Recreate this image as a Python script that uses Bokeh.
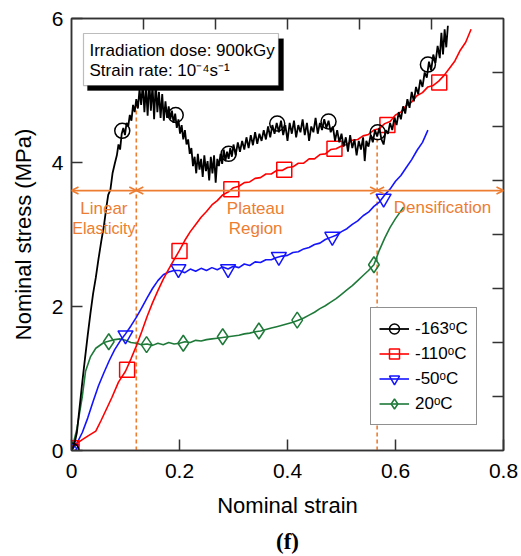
from bokeh.plotting import figure
from bokeh.models import (Range1d, LinearAxis, FixedTicker, Legend, LegendItem, Label,
                          BoxAnnotation, Arrow, OpenHead, Title)
from bokeh.embed import file_html
from bokeh.resources import INLINE

# ---------------- data ----------------
black_x = [0.000, 0.005, 0.010, 0.015, 0.020, 0.025, 0.030, 0.035, 0.040, 0.045, 0.050, 0.055,
           0.060, 0.065, 0.068, 0.072, 0.076, 0.080, 0.084, 0.087, 0.090, 0.093, 0.096, 0.099,
           0.102, 0.105, 0.108, 0.111, 0.114, 0.117, 0.120, 0.123, 0.126, 0.129, 0.132, 0.135,
           0.138, 0.141, 0.144, 0.147, 0.150, 0.153, 0.156, 0.159, 0.162, 0.165, 0.168, 0.171,
           0.174, 0.177, 0.180, 0.183, 0.186, 0.189, 0.192, 0.195, 0.198, 0.201, 0.204, 0.207,
           0.210, 0.213, 0.216, 0.219, 0.222, 0.225, 0.228, 0.231, 0.234, 0.237, 0.240, 0.243,
           0.246, 0.249, 0.252, 0.255, 0.258, 0.261, 0.264, 0.267, 0.270, 0.273, 0.276, 0.279,
           0.282, 0.285, 0.288, 0.291, 0.294, 0.297, 0.300, 0.304, 0.308, 0.312, 0.316, 0.320,
           0.324, 0.328, 0.332, 0.336, 0.340, 0.344, 0.348, 0.352, 0.356, 0.360, 0.364, 0.368,
           0.372, 0.376, 0.380, 0.384, 0.388, 0.392, 0.396, 0.400, 0.404, 0.408, 0.412, 0.416,
           0.420, 0.424, 0.428, 0.432, 0.436, 0.440, 0.444, 0.448, 0.452, 0.456, 0.460, 0.464,
           0.468, 0.472, 0.476, 0.480, 0.484, 0.488, 0.492, 0.496, 0.500, 0.504, 0.508, 0.512,
           0.516, 0.520, 0.524, 0.528, 0.532, 0.536, 0.540, 0.543, 0.546, 0.550, 0.554, 0.558,
           0.562, 0.566, 0.570, 0.574, 0.578, 0.582, 0.586, 0.590, 0.594, 0.598, 0.602, 0.606,
           0.610, 0.614, 0.618, 0.622, 0.626, 0.630, 0.634, 0.638, 0.642, 0.646, 0.650, 0.654,
           0.658, 0.662, 0.666, 0.670, 0.674, 0.678, 0.682, 0.685, 0.688, 0.691, 0.694, 0.697]
black_y = [0.00, 0.08, 0.25, 0.60, 0.95, 1.28, 1.60, 1.90, 2.18, 2.40, 2.66, 2.90,
           3.12, 3.40, 3.55, 3.62, 3.85, 3.98, 4.10, 4.25, 4.18, 4.40, 4.48, 4.38,
           4.55, 4.50, 4.66, 4.58, 4.80, 4.70, 4.88, 4.75, 5.02, 4.80, 5.10, 4.70,
           5.05, 4.65, 5.14, 4.72, 5.08, 4.60, 5.12, 4.70, 4.98, 4.62, 4.95, 4.58,
           4.85, 4.62, 4.78, 4.60, 4.72, 4.55, 4.68, 4.48, 4.60, 4.40, 4.52, 4.32,
           4.45, 4.25, 4.32, 4.12, 4.20, 3.95, 4.08, 3.85, 4.12, 3.90, 4.05, 3.80,
           4.10, 3.88, 4.02, 3.75, 4.08, 3.85, 4.10, 3.72, 4.05, 3.95, 4.12, 3.98,
           4.18, 4.02, 4.15, 4.05, 4.20, 4.08, 4.25, 4.10, 4.28, 4.15, 4.30, 4.18,
           4.35, 4.20, 4.38, 4.24, 4.42, 4.26, 4.40, 4.30, 4.45, 4.32, 4.50, 4.35,
           4.52, 4.40, 4.55, 4.42, 4.58, 4.38, 4.52, 4.30, 4.55, 4.40, 4.58, 4.35,
           4.52, 4.42, 4.60, 4.38, 4.55, 4.30, 4.50, 4.42, 4.62, 4.40, 4.55, 4.45,
           4.60, 4.48, 4.58, 4.42, 4.50, 4.30, 4.45, 4.28, 4.40, 4.22, 4.35, 4.15,
           4.38, 4.20, 4.32, 4.10, 4.30, 4.18, 4.35, 4.02, 4.30, 4.22, 4.38, 4.28,
           4.45, 4.36, 4.48, 4.32, 4.25, 4.45, 4.40, 4.55, 4.45, 4.62, 4.52, 4.70,
           4.60, 4.78, 4.68, 4.88, 4.76, 4.98, 4.85, 5.05, 4.95, 5.15, 5.05, 5.25,
           5.18, 5.40, 5.28, 5.50, 5.38, 5.62, 5.45, 5.80, 5.50, 5.85, 5.60, 5.90]
black_mx = [0.000, 0.094, 0.193, 0.291, 0.381, 0.476, 0.567, 0.660]
black_my = [0.00, 4.44, 4.66, 4.12, 4.54, 4.57, 4.42, 5.36]

red_x = [0.000, 0.010, 0.020, 0.030, 0.045, 0.055, 0.065, 0.075, 0.087, 0.100, 0.110, 0.120,
         0.130, 0.140, 0.150, 0.160, 0.170, 0.180, 0.190, 0.200, 0.210, 0.220, 0.230, 0.240,
         0.250, 0.260, 0.270, 0.280, 0.290, 0.300, 0.310, 0.320, 0.330, 0.340, 0.350, 0.360,
         0.370, 0.380, 0.390, 0.400, 0.410, 0.420, 0.430, 0.440, 0.450, 0.460, 0.470, 0.480,
         0.490, 0.500, 0.510, 0.520, 0.530, 0.540, 0.550, 0.560, 0.570, 0.580, 0.590, 0.600,
         0.610, 0.620, 0.630, 0.640, 0.650, 0.660, 0.670, 0.680, 0.690, 0.700, 0.710, 0.720,
         0.730, 0.740]
red_y = [0.05, 0.10, 0.15, 0.20, 0.27, 0.42, 0.58, 0.74, 0.95, 1.10, 1.27, 1.45,
         1.65, 1.86, 2.05, 2.22, 2.38, 2.52, 2.65, 2.78, 2.92, 3.04, 3.14, 3.24,
         3.32, 3.41, 3.47, 3.55, 3.59, 3.65, 3.67, 3.72, 3.73, 3.78, 3.79, 3.84,
         3.84, 3.89, 3.89, 3.93, 3.94, 3.99, 3.99, 4.05, 4.05, 4.11, 4.12, 4.18,
         4.19, 4.23, 4.25, 4.31, 4.32, 4.37, 4.39, 4.45, 4.47, 4.54, 4.57, 4.66,
         4.70, 4.79, 4.84, 4.93, 4.97, 5.05, 5.07, 5.13, 5.21, 5.31, 5.41, 5.56,
         5.67, 5.85]
red_mx = [0.000, 0.103, 0.200, 0.296, 0.394, 0.487, 0.585, 0.681]
red_my = [0.03, 1.12, 2.77, 3.63, 3.90, 4.19, 4.52, 5.11]

blue_x = [0.000, 0.010, 0.020, 0.030, 0.040, 0.050, 0.060, 0.070, 0.080, 0.090, 0.100, 0.110,
          0.120, 0.130, 0.140, 0.150, 0.160, 0.170, 0.180, 0.190, 0.200, 0.210, 0.220, 0.230,
          0.240, 0.250, 0.260, 0.270, 0.280, 0.290, 0.300, 0.310, 0.320, 0.330, 0.340, 0.350,
          0.360, 0.370, 0.380, 0.390, 0.400, 0.410, 0.420, 0.430, 0.440, 0.450, 0.460, 0.470,
          0.480, 0.490, 0.500, 0.510, 0.520, 0.530, 0.540, 0.550, 0.560, 0.570, 0.580, 0.590,
          0.600, 0.610, 0.620, 0.630, 0.640, 0.650, 0.660]
blue_y = [0.00, 0.10, 0.25, 0.45, 0.68, 0.90, 1.08, 1.25, 1.40, 1.52, 1.62, 1.73,
          1.85, 1.98, 2.12, 2.25, 2.36, 2.44, 2.48, 2.50, 2.50, 2.47, 2.52, 2.49,
          2.53, 2.50, 2.54, 2.51, 2.55, 2.52, 2.56, 2.54, 2.59, 2.57, 2.62, 2.61,
          2.65, 2.65, 2.68, 2.70, 2.71, 2.75, 2.76, 2.80, 2.82, 2.86, 2.88, 2.93,
          2.96, 2.99, 3.04, 3.08, 3.14, 3.19, 3.26, 3.31, 3.39, 3.45, 3.55, 3.63,
          3.74, 3.82, 3.93, 4.04, 4.17, 4.28, 4.45]
blue_mx = [0.000, 0.100, 0.198, 0.290, 0.384, 0.483, 0.578]
blue_my = [0.02, 1.60, 2.52, 2.52, 2.69, 2.97, 3.50]

green_x = [0.000, 0.010, 0.020, 0.026, 0.035, 0.045, 0.060, 0.070, 0.080, 0.090, 0.100, 0.110,
           0.120, 0.130, 0.140, 0.150, 0.160, 0.170, 0.180, 0.190, 0.200, 0.210, 0.220, 0.230,
           0.240, 0.250, 0.260, 0.270, 0.280, 0.290, 0.300, 0.310, 0.320, 0.330, 0.340, 0.350,
           0.360, 0.370, 0.380, 0.390, 0.400, 0.410, 0.420, 0.430, 0.440, 0.450, 0.460, 0.470,
           0.480, 0.490, 0.500, 0.510, 0.520, 0.530, 0.540, 0.550, 0.560, 0.570, 0.580, 0.590,
           0.600, 0.615]
green_y = [0.00, 0.30, 0.75, 1.10, 1.30, 1.42, 1.50, 1.52, 1.54, 1.55, 1.53, 1.50,
           1.49, 1.47, 1.48, 1.46, 1.49, 1.47, 1.50, 1.48, 1.49, 1.51, 1.50, 1.53,
           1.52, 1.54, 1.55, 1.56, 1.57, 1.58, 1.59, 1.60, 1.62, 1.63, 1.65, 1.66,
           1.68, 1.70, 1.72, 1.74, 1.76, 1.78, 1.81, 1.84, 1.88, 1.92, 1.97, 2.01,
           2.06, 2.11, 2.17, 2.23, 2.29, 2.36, 2.43, 2.50, 2.58, 2.78, 2.95, 3.10,
           3.22, 3.38]
green_mx = [0.000, 0.069, 0.139, 0.207, 0.280, 0.347, 0.418, 0.560]
green_my = [0.02, 1.51, 1.47, 1.49, 1.58, 1.66, 1.81, 2.58]

series_labels = ["-163ᵒC", "-110ᵒC", "-50ᵒC", "20ᵒC"]
x_ticks = [0, 0.2, 0.4, 0.6, 0.8]
x_tick_labels = ["0", "0.2", "0.4", "0.6", "0.8"]
y_ticks = [0, 2, 4, 6]
y_tick_labels = ["0", "2", "4", "6"]
region_bounds = [0.12, 0.566]      # strain at region boundaries
region_bound_tops = [4.80, 4.42]  # top of dashed boundary lines
arrow_level = 3.61

# ---------------- figure ----------------
FONT = "Liberation Sans"
ORANGE = "#ED7D31"
FRAME = "#333333"
GREEN = "#1f7a3a"

p = figure(frame_width=432, frame_height=432, min_border_left=71, min_border_right=15,
           min_border_top=18, min_border_bottom=104,
           x_range=Range1d(0, 0.8), y_range=Range1d(0, 6),
           output_backend="svg", toolbar_location=None)
p.grid.visible = False
p.outline_line_color = FRAME
p.outline_line_width = 1.5
p.background_fill_color = "white"
p.border_fill_color = "white"

# main axes
xa = p.xaxis[0]
xa.ticker = FixedTicker(ticks=x_ticks)
xa.major_label_overrides = {t: l for t, l in zip(x_ticks, x_tick_labels)}
ya = p.yaxis[0]
ya.ticker = FixedTicker(ticks=y_ticks)
ya.major_label_overrides = {t: l for t, l in zip(y_ticks, y_tick_labels)}
for ax in (xa, ya):
    ax.major_tick_in = 11
    ax.major_tick_out = 0
    ax.minor_tick_line_color = None
    ax.major_tick_line_color = FRAME
    ax.major_tick_line_width = 1.5
    ax.axis_line_color = FRAME
    ax.axis_line_width = 1.5
    ax.major_label_text_font = FONT
    ax.major_label_text_font_size = "21px"
    ax.major_label_text_color = "black"
    ax.axis_label_text_font = FONT
    ax.axis_label_text_font_size = "22px"
    ax.axis_label_text_font_style = "normal"
    ax.axis_label_text_color = "black"
xa.axis_label = "Nominal strain"
ya.axis_label = "Nominal stress (MPa)"
xa.major_label_standoff = 13
xa.axis_label_standoff = 12
ya.major_label_standoff = 8
ya.axis_label_standoff = 13

# frame ticks on top/right (independent spacing)
p.extra_x_ranges = {"top": Range1d(0, 6)}
p.extra_y_ranges = {"right": Range1d(0, 8)}
top_ax = LinearAxis(x_range_name="top", ticker=FixedTicker(ticks=[1, 2, 3, 4, 5]))
right_ax = LinearAxis(y_range_name="right", ticker=FixedTicker(ticks=[1, 2, 3, 4, 5, 6, 7]))
for ax in (top_ax, right_ax):
    ax.major_tick_in = 11
    ax.major_tick_out = 0
    ax.minor_tick_line_color = None
    ax.major_tick_line_color = FRAME
    ax.major_tick_line_width = 1.5
    ax.axis_line_color = FRAME
    ax.axis_line_width = 1.5
    ax.major_label_text_font_size = "0px"
    ax.major_label_text_color = None
    ax.major_label_standoff = 0
p.add_layout(top_ax, "above")
p.add_layout(right_ax, "right")

# region boundaries (dashed) and arrows
p.segment(x0=region_bounds, y0=[0, 0], x1=region_bounds, y1=region_bound_tops,
          line_color=ORANGE, line_width=1.6, line_dash="4 3")
seg_edges = [0.0] + region_bounds + [0.8]
for a, b in zip(seg_edges[:-1], seg_edges[1:]):
    p.add_layout(Arrow(x_start=a, y_start=arrow_level, x_end=b, y_end=arrow_level,
                       line_color=ORANGE, line_width=1.6,
                       start=OpenHead(size=7, line_color=ORANGE, line_width=1.6),
                       end=OpenHead(size=7, line_color=ORANGE, line_width=1.6)))

# curves
lw = 1.6
g_line = p.line(green_x, green_y, line_color=GREEN, line_width=lw)
g_mark = p.scatter(green_mx, green_my, marker="diamond", size=16,
                   line_color=GREEN, fill_color=None, line_width=1.5)
b_line = p.line(blue_x, blue_y, line_color="#1414ff", line_width=lw)
b_mark = p.scatter(blue_mx, blue_my, marker="inverted_triangle", size=15,
                   line_color="#1414ff", fill_color=None, line_width=1.5)
r_line = p.line(red_x, red_y, line_color="#ff0000", line_width=lw)
r_mark = p.scatter(red_mx, red_my, marker="square", size=15,
                   line_color="#ff0000", fill_color=None, line_width=1.5)
k_line = p.line(black_x, black_y, line_color="black", line_width=1.8)
k_mark = p.scatter(black_mx, black_my, marker="circle", size=15,
                   line_color="black", fill_color=None, line_width=1.5)

# region texts
for tx, ty, t, fs in [(0.060, 3.36, "Linear", "17px"), (0.060, 3.08, "Elasticity", "16px"),
                      (0.341, 3.36, "Plateau", "17px"), (0.341, 3.08, "Region", "17px"),
                      (0.687, 3.375, "Densification", "17px")]:
    p.add_layout(Label(x=tx, y=ty, text=t, text_align="center", text_baseline="middle",
                       text_font=FONT, text_font_size=fs, text_color=ORANGE))

# info box with shadow
p.add_layout(BoxAnnotation(left=0.0296, right=0.3926, bottom=5.00, top=5.72,
                           fill_color="black", fill_alpha=1.0, line_color="black"))
p.add_layout(BoxAnnotation(left=0.0222, right=0.3833, bottom=5.069, top=5.792,
                           fill_color="white", fill_alpha=1.0, line_color="#222222",
                           line_width=1.2))
p.add_layout(Label(x=0.0333, y=5.556, text="Irradiation dose: 900kGy", text_baseline="middle",
                   text_font=FONT, text_font_size="17px", text_color="black"))
p.add_layout(Label(x=0.0333, y=5.278, text="Strain rate: 10⁻⁴s⁻¹", text_baseline="middle",
                   text_font=FONT, text_font_size="17px", text_color="black"))

# legend
items = [LegendItem(label=series_labels[0], renderers=[k_line, k_mark]),
         LegendItem(label=series_labels[1], renderers=[r_line, r_mark]),
         LegendItem(label=series_labels[2], renderers=[b_line, b_mark]),
         LegendItem(label=series_labels[3], renderers=[g_line, g_mark])]
legend = Legend(items=items, location=(299, 25), padding=8, spacing=0,
                glyph_width=30, glyph_height=25, label_height=25, label_standoff=6,
                label_text_font=FONT, label_text_font_size="17px", label_text_color="black",
                border_line_color="#222222", border_line_width=1.2,
                background_fill_color="white", background_fill_alpha=1.0, margin=0)
p.add_layout(legend, "center")

# panel caption
p.add_layout(Title(text="(f)", align="center", text_font="Liberation Serif", standoff=12,
                   text_font_style="bold", text_font_size="23px", text_color="black"), "below")

open("out.html", "w").write(file_html(p, INLINE))
